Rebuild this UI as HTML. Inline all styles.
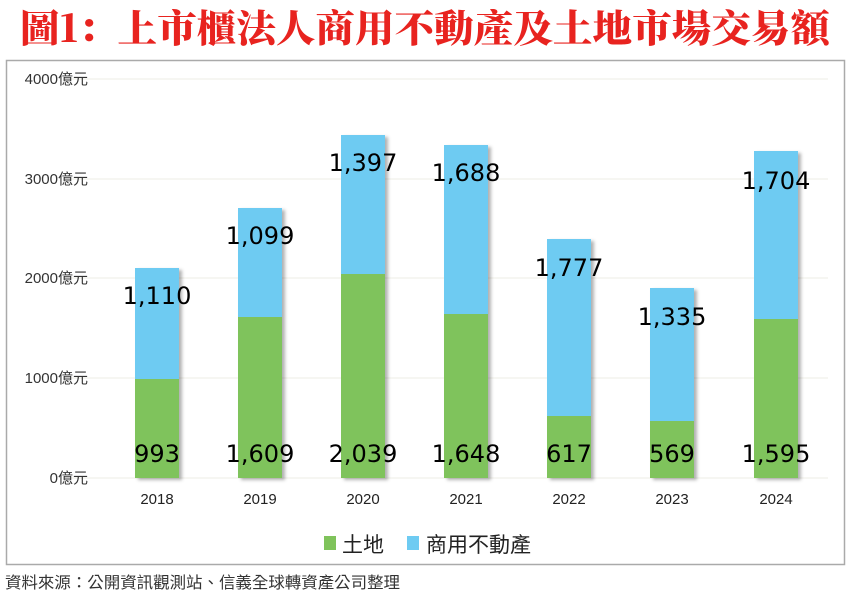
<!DOCTYPE html>
<html><head><meta charset="utf-8"><style>
body{margin:0;background:#fff;width:850px;height:597px;overflow:hidden}
</style></head><body>
<svg width="850" height="597" xmlns="http://www.w3.org/2000/svg">
<defs><filter id="s" x="-20%" y="-5%" width="150%" height="120%"><feDropShadow dx="3" dy="2" stdDeviation="1.5" flood-color="#000" flood-opacity="0.3"/></filter></defs>
<text x="425" y="42" text-anchor="middle" font-family="'Noto Serif CJK SC','Liberation Serif',serif" font-weight="900" font-size="38" fill="#e8231f" textLength="810" lengthAdjust="spacingAndGlyphs">圖1：上市櫃法人商用不動產及土地市場交易額</text>
<rect x="6.5" y="60.5" width="838" height="504" fill="#fff" stroke="#aaa" stroke-width="1.5"/>
<g stroke="#eeede6" stroke-width="1">
<line x1="63" x2="828" y1="79" y2="79"/><line x1="63" x2="828" y1="179" y2="179"/><line x1="63" x2="828" y1="278" y2="278"/><line x1="63" x2="828" y1="378" y2="378"/><line x1="63" x2="828" y1="478" y2="478"/>
</g>
<g font-family="'Liberation Sans','Noto Sans CJK TC',sans-serif" font-size="15" fill="#333" text-anchor="end">
<text x="88" y="84">4000億元</text><text x="88" y="184">3000億元</text><text x="88" y="283">2000億元</text><text x="88" y="383">1000億元</text><text x="88" y="483">0億元</text>
</g>
<g filter="url(#s)">
<rect x="135" y="379" width="44" height="99" fill="#7fc35b"/><rect x="135" y="268" width="44" height="111" fill="#6ecbf2"/>
<rect x="238" y="317" width="44" height="161" fill="#7fc35b"/><rect x="238" y="208" width="44" height="109" fill="#6ecbf2"/>
<rect x="341" y="274" width="44" height="204" fill="#7fc35b"/><rect x="341" y="135" width="44" height="139" fill="#6ecbf2"/>
<rect x="444" y="314" width="44" height="164" fill="#7fc35b"/><rect x="444" y="145" width="44" height="169" fill="#6ecbf2"/>
<rect x="547" y="416" width="44" height="62" fill="#7fc35b"/><rect x="547" y="239" width="44" height="177" fill="#6ecbf2"/>
<rect x="650" y="421" width="44" height="57" fill="#7fc35b"/><rect x="650" y="288" width="44" height="133" fill="#6ecbf2"/>
<rect x="754" y="319" width="44" height="159" fill="#7fc35b"/><rect x="754" y="151" width="44" height="168" fill="#6ecbf2"/>
</g>
<g font-family="'DejaVu Sans',sans-serif" font-size="24" fill="#000" text-anchor="middle">
<text x="157" y="462">993</text><text x="157" y="304">1,110</text>
<text x="260" y="462">1,609</text><text x="260" y="244">1,099</text>
<text x="363" y="462">2,039</text><text x="363" y="171">1,397</text>
<text x="466" y="462">1,648</text><text x="466" y="181">1,688</text>
<text x="569" y="462">617</text><text x="569" y="276">1,777</text>
<text x="672" y="462">569</text><text x="672" y="325">1,335</text>
<text x="776" y="462">1,595</text><text x="776" y="189">1,704</text>
</g>
<g font-family="'Liberation Sans',sans-serif" font-size="15" fill="#222" text-anchor="middle">
<text x="157" y="504">2018</text><text x="260" y="504">2019</text><text x="363" y="504">2020</text><text x="466" y="504">2021</text><text x="569" y="504">2022</text><text x="672" y="504">2023</text><text x="776" y="504">2024</text>
</g>
<rect x="324" y="536" width="12" height="14" fill="#7fc35b"/>
<text x="342" y="552" font-family="'Liberation Sans','Noto Sans CJK TC',sans-serif" font-size="21" fill="#222">土地</text>
<rect x="407" y="536" width="12" height="14" fill="#6ecbf2"/>
<text x="426" y="552" font-family="'Liberation Sans','Noto Sans CJK TC',sans-serif" font-size="21" fill="#222">商用不動產</text>
<text x="5" y="588" font-family="'Liberation Sans','Noto Sans CJK TC',sans-serif" font-size="16" fill="#333" textLength="395" lengthAdjust="spacingAndGlyphs">資料來源：公開資訊觀測站、信義全球轉資產公司整理</text>
</svg>
</body></html>
